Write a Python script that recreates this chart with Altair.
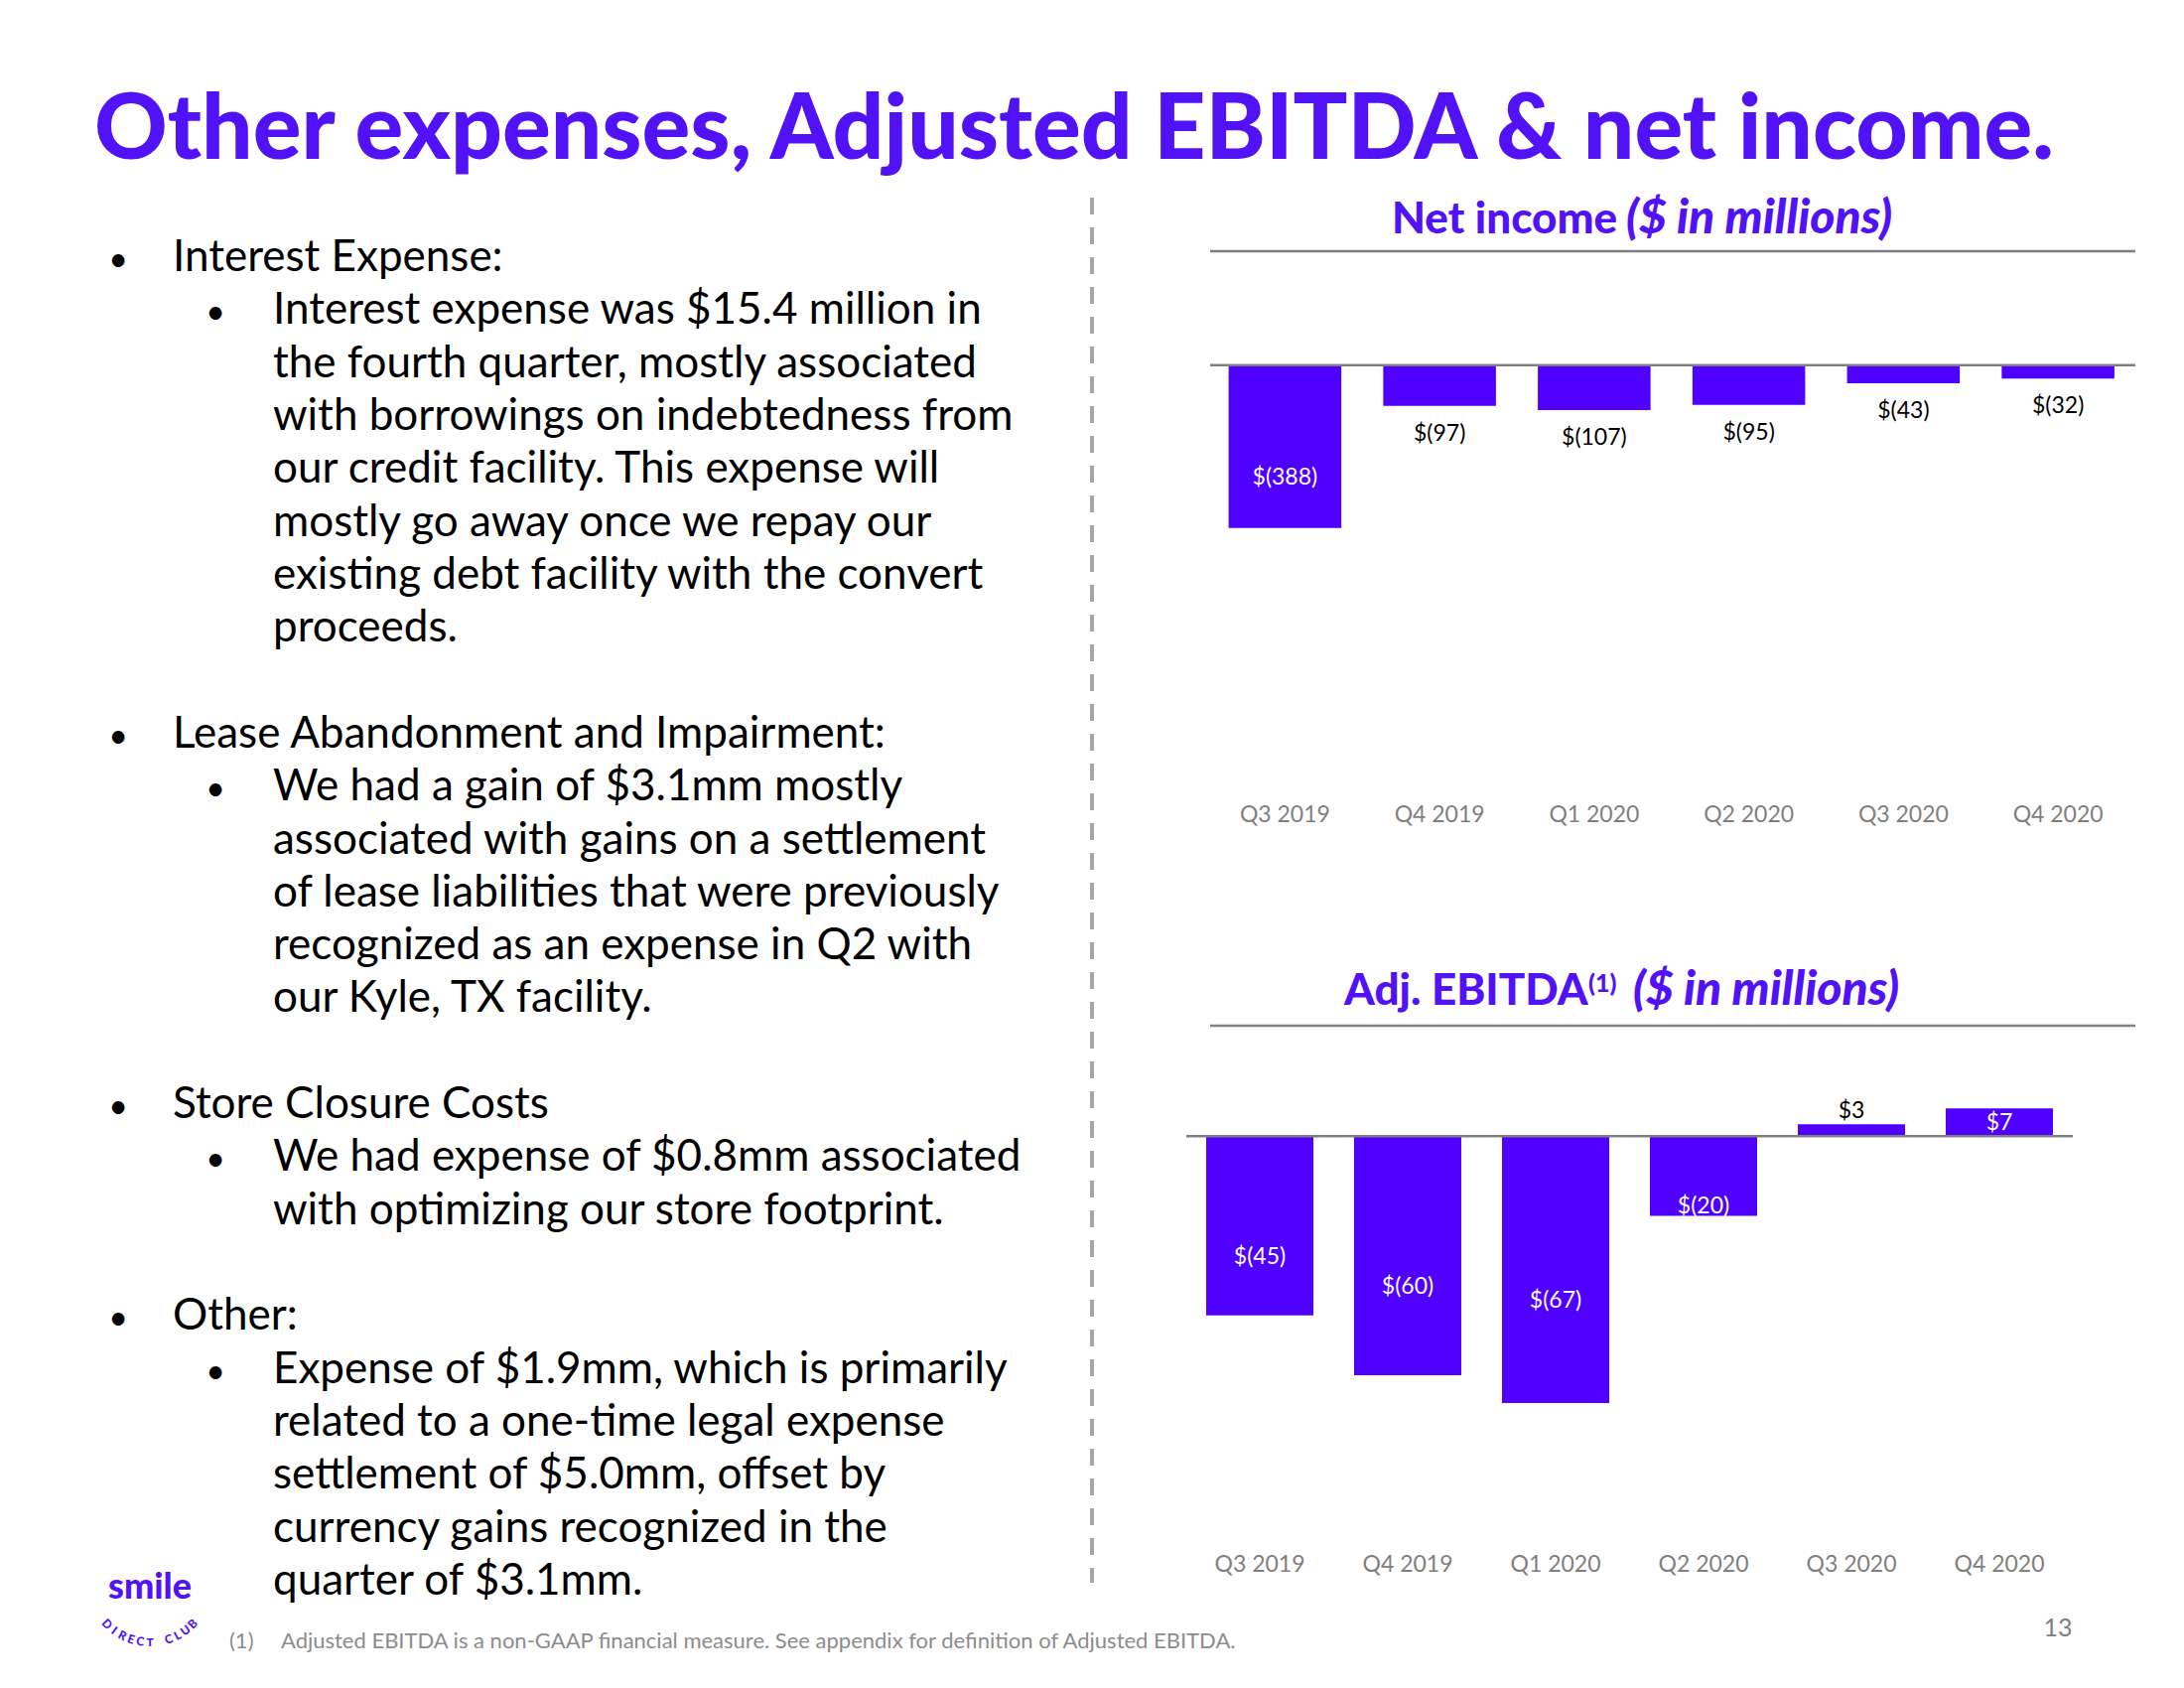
import altair as alt
import pandas as pd
import numpy as np

# ---------------- data ----------------
quarters = ["Q3 2019", "Q4 2019", "Q1 2020", "Q2 2020", "Q3 2020", "Q4 2020"]
net_income = [-388, -97, -107, -95, -43, -32]
adj_ebitda = [-45, -60, -67, -20, 3, 7]

title_text = "Other expenses, Adjusted EBITDA & net income."
bullet_groups = [
    ("Interest Expense:", [
        "Interest expense was $15.4 million in",
        "the fourth quarter, mostly associated",
        "with borrowings on indebtedness from",
        "our credit facility. This expense will",
        "mostly go away once we repay our",
        "existing debt facility with the convert",
        "proceeds."]),
    ("Lease Abandonment and Impairment:", [
        "We had a gain of $3.1mm mostly",
        "associated with gains on a settlement",
        "of lease liabilities that were previously",
        "recognized as an expense in Q2 with",
        "our Kyle, TX facility."]),
    ("Store Closure Costs", [
        "We had expense of $0.8mm associated",
        "with optimizing our store footprint."]),
    ("Other:", [
        "Expense of $1.9mm, which is primarily",
        "related to a one-time legal expense",
        "settlement of $5.0mm, offset by",
        "currency gains recognized in the",
        "quarter of $3.1mm."]),
]
footnote_mark = "(1)"
footnote_text = "Adjusted EBITDA is a non-GAAP financial measure. See appendix for definition of Adjusted EBITDA."
page_number = "13"
logo_word = "smile"
logo_arc = "DIRECT CLUB"

# ---------------- style ----------------
PURPLE = "#5000FF"
TITLE_PURPLE = "#5212F7"
GREY = "#7F7F7F"
FONT = "Lato"
OFF = 8  # page margin


def P(v):
    return v - OFF


def fmt(v):
    return f"$({abs(v)})" if v < 0 else f"${v}"


# ---------------- bullet text layout ----------------
rows = []
k = 0
for head, subs in bullet_groups:
    rows.append({"text": head, "lvl": 1, "k": k, "first": True})
    k += 1
    for i, s in enumerate(subs):
        rows.append({"text": s, "lvl": 2, "k": k, "first": i == 0})
        k += 1
    k += 1
bul = pd.DataFrame(rows)
bul["y"] = P(273 + 53.32 * bul["k"])
bul["x"] = np.where(bul["lvl"] == 1, P(174), P(275))
bul["bx"] = np.where(bul["lvl"] == 1, P(119), P(217))
dots = bul[bul["first"]].copy()
dots["dot"] = "•"

layers = []

# main title
layers.append(
    alt.Chart(pd.DataFrame({"t": [title_text]})).mark_text(
        align="left", baseline="alphabetic", font=FONT, fontSize=91,
        fontWeight=900, color=TITLE_PURPLE
    ).encode(x=alt.value(P(95)), y=alt.value(P(160)), text="t:N")
)

# bullet texts
layers.append(
    alt.Chart(bul).mark_text(
        align="left", baseline="alphabetic", font=FONT, fontSize=44, color="black"
    ).encode(
        x=alt.X("x:Q", scale=None, axis=None),
        y=alt.Y("y:Q", scale=None, axis=None),
        text="text:N",
    )
)
layers.append(
    alt.Chart(dots).mark_text(
        align="center", baseline="alphabetic", font=FONT, fontSize=34, color="black"
    ).encode(
        x=alt.X("bx:Q", scale=None, axis=None),
        y=alt.Y("y:Q", scale=None, axis=None),
        text="dot:N",
    )
)

# dashed separator
layers.append(
    alt.Chart(pd.DataFrame({"a": [0]})).mark_rule(
        color="#A6A6A6", strokeWidth=4, strokeDash=[17, 13]
    ).encode(x=alt.value(P(1100)), y=alt.value(P(199)), y2=alt.value(P(1594)))
)


def bar_panel(values, inside_min, xr, pin, yzero, ppu, dmin, tick_base, line_top,
              title_y, zero_x, title_parts):
    df = pd.DataFrame({"quarter": quarters, "value": values})
    df["label"] = [fmt(v) for v in values]
    df["mid"] = df["value"] / 2.0
    df["inside"] = df["value"].abs() >= inside_min
    xs = alt.Scale(domain=quarters, range=[P(xr[0]), P(xr[1])],
                   paddingInner=pin, paddingOuter=pin / 2)
    ys = alt.Scale(domain=[dmin, 0], range=[P(yzero - dmin * ppu), P(yzero)],
                   nice=False, zero=False)
    X = alt.X("quarter:N", scale=xs, axis=None, sort=quarters)
    out = []
    # top grey line
    out.append(alt.Chart(pd.DataFrame({"a": [0]})).mark_rule(
        color=GREY, strokeWidth=2.5).encode(
        x=alt.value(P(1219)), x2=alt.value(P(2151)), y=alt.value(P(line_top))))
    # bars
    out.append(alt.Chart(df).mark_bar(color=PURPLE).encode(
        x=X, y=alt.Y("value:Q", scale=ys, axis=None), y2=alt.datum(0)))
    # zero line
    out.append(alt.Chart(pd.DataFrame({"a": [0]})).mark_rule(
        color=GREY, strokeWidth=2.5).encode(
        x=alt.value(P(zero_x[0])), x2=alt.value(P(zero_x[1])), y=alt.value(P(yzero))))
    # labels
    groups = [
        ("datum.inside && datum.value < 0", "mid", 31, "white"),
        ("datum.inside && datum.value >= 0", "mid", 1, "white"),
        ("!datum.inside && datum.value < 0", "value", 28, "black"),
        ("!datum.inside && datum.value >= 0", "value", -13, "black"),
    ]
    for flt, fld, dy, col in groups:
        out.append(alt.Chart(df).transform_filter(flt).mark_text(
            font=FONT, fontSize=23, color=col, dy=dy, baseline="middle"
        ).encode(x=X, y=alt.Y(f"{fld}:Q", scale=ys, axis=None), text="label:N"))
    # category labels
    out.append(alt.Chart(df).mark_text(
        font=FONT, fontSize=23, color=GREY, baseline="alphabetic"
    ).encode(x=X, y=alt.value(P(tick_base)), text="quarter:N"))
    # title pieces
    for txt, xpos, size, italic, dyb in title_parts:
        out.append(alt.Chart(pd.DataFrame({"t": [txt]})).mark_text(
            align="left", baseline="alphabetic", font=FONT, fontSize=size,
            fontWeight=900, fontStyle="italic" if italic else "normal",
            color=TITLE_PURPLE
        ).encode(x=alt.value(P(xpos)), y=alt.value(P(title_y + dyb)), text="t:N"))
    return out


layers += bar_panel(net_income, 200, (1216.5, 2151), 0.271, 367.7, 0.4227, -1000,
                    828, 253, 235, (1219, 2151),
                    [("Net income", 1402, 44, False, 0),
                     ("($ in millions)", 1638, 48, True, 0)])
layers += bar_panel(adj_ebitda, 5, (1194.5, 2088.5), 0.275, 1144.3, 4.01, -100,
                    1583, 1033, 1012, (1195, 2088),
                    [("Adj. EBITDA", 1354, 44, False, 0),
                     ("(1)", 1600, 25, False, -13),
                     ("($ in millions)", 1645, 48, True, 0)])

# footnote + page number
layers.append(alt.Chart(pd.DataFrame({"t": [footnote_mark]})).mark_text(
    align="left", baseline="alphabetic", font=FONT, fontSize=22, color="#8C8C8C"
).encode(x=alt.value(P(231)), y=alt.value(P(1660)), text="t:N"))
layers.append(alt.Chart(pd.DataFrame({"t": [footnote_text]})).mark_text(
    align="left", baseline="alphabetic", font=FONT, fontSize=22, color="#8C8C8C"
).encode(x=alt.value(P(283)), y=alt.value(P(1660)), text="t:N"))
layers.append(alt.Chart(pd.DataFrame({"t": [page_number]})).mark_text(
    align="center", baseline="alphabetic", font=FONT, fontSize=25, color=GREY
).encode(x=alt.value(P(2073)), y=alt.value(P(1648)), text="t:N"))

# logo
layers.append(alt.Chart(pd.DataFrame({"t": [logo_word]})).mark_text(
    align="center", baseline="alphabetic", font=FONT, fontSize=36, fontWeight=900,
    color=TITLE_PURPLE
).encode(x=alt.value(P(151)), y=alt.value(P(1610)), text="t:N"))
chars = list(logo_arc)
phi = np.linspace(-46, 46, len(chars))
arc = pd.DataFrame({
    "c": chars,
    "x": P(151 + 60 * np.sin(np.radians(phi))),
    "y": P(1594 + 60 * np.cos(np.radians(phi))),
    "ang": np.mod(-phi, 360),
})
layers.append(alt.Chart(arc).mark_text(
    align="center", baseline="middle", font=FONT, fontSize=12, fontWeight=900,
    color=TITLE_PURPLE
).encode(
    x=alt.X("x:Q", scale=None, axis=None),
    y=alt.Y("y:Q", scale=None, axis=None),
    angle=alt.Angle("ang:Q", scale=None),
    text="c:N",
))

chart = alt.layer(*layers).resolve_scale(
    x="independent", y="independent"
).properties(
    width=2184, height=1684, autosize=alt.AutoSizeParams(type="none"), padding=0,
    background="white"
).configure_view(stroke=None)

chart.save("out.html", embed_options={"renderer": "svg", "actions": False})
